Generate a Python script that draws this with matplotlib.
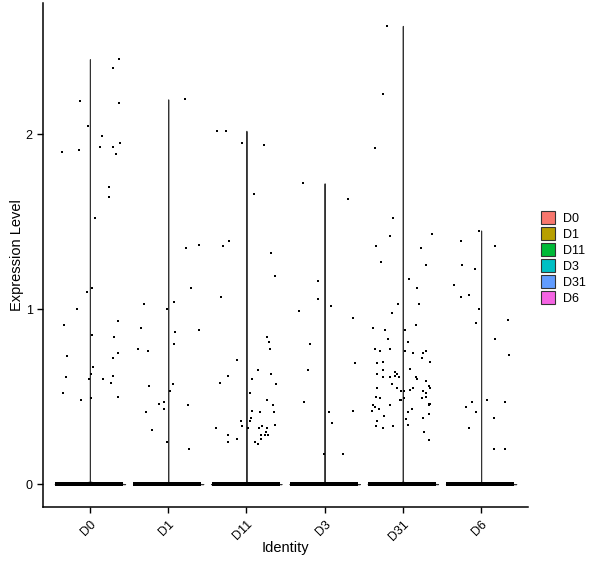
import numpy as np
import matplotlib
matplotlib.use("Agg")
import matplotlib.pyplot as plt
from matplotlib.patches import Patch

plt.rcParams['font.family'] = ['Liberation Sans', 'DejaVu Sans']

groups = ["D0", "D1", "D11", "D3", "D31", "D6"]
colors = ["#F8766D", "#B79F00", "#00BA38", "#00BFC4", "#619CFF", "#F564E3"]
zero_counts = [40000, 40000, 40000, 40000, 40000, 40000]

# non-zero expression values and their jitter offsets
d0_vals = [2.43, 2.38, 2.19, 2.18, 2.05, 1.99, 1.93, 1.93, 1.95, 1.89, 1.91, 1.90, 1.70, 1.64, 1.52,
           1.12, 1.10, 1.00, 0.91, 0.93, 0.85, 0.84, 0.73, 0.75, 0.72, 0.67, 0.63, 0.61, 0.60, 0.60,
           0.62, 0.58, 0.52, 0.50, 0.48, 0.49]
d0_jit = [0.37, 0.29, -0.13, 0.37, -0.02, 0.15, 0.13, 0.30, 0.39, 0.33, -0.14, -0.36, 0.24, 0.24, 0.07,
          0.03, -0.04, -0.17, -0.33, 0.36, 0.02, 0.31, -0.29, 0.36, 0.30, 0.04, 0.01, -0.31, -0.01, 0.17,
          0.29, 0.27, -0.35, 0.36, -0.11, 0.01]

d1_vals = [2.20, 1.35, 1.37, 1.03, 0.89, 1.00, 1.04, 1.12, 0.87, 0.88, 0.80, 0.77, 0.76, 0.56, 0.57,
           0.53, 0.46, 0.47, 0.43, 0.45, 0.41, 0.31, 0.24, 0.20]
d1_jit = [0.21, 0.23, 0.39, -0.31, -0.35, -0.01, 0.07, 0.29, 0.09, 0.39, 0.08, -0.39, -0.26, -0.24, 0.06,
          0.02, -0.12, -0.05, -0.05, 0.25, -0.28, -0.21, -0.02, 0.27]

d11_vals = [2.02, 2.02, 1.95, 1.94, 1.66, 1.36, 1.39, 1.32, 1.19, 1.07, 0.71, 0.84, 0.81, 0.77, 0.65,
            0.62, 0.58, 0.60, 0.63, 0.57, 0.52, 0.48, 0.45, 0.42, 0.41, 0.41, 0.38, 0.36, 0.36, 0.33,
            0.33, 0.34, 0.32, 0.32, 0.32, 0.32, 0.30, 0.28, 0.26, 0.28, 0.26, 0.28, 0.28, 0.24, 0.24, 0.23]
d11_jit = [-0.37, -0.26, -0.06, 0.23, 0.10, -0.30, -0.22, 0.32, 0.37, -0.32, -0.12, 0.26, 0.29, 0.30, 0.15,
           -0.23, -0.34, 0.07, 0.32, 0.38, 0.05, 0.26, 0.34, 0.07, 0.35, 0.18, 0.06, -0.07, 0.05, -0.06,
           0.20, 0.37, -0.39, 0.02, 0.16, 0.26, 0.25, -0.23, -0.12, 0.19, 0.19, 0.24, 0.28, -0.23, 0.11, 0.15]

d3_vals = [1.72, 1.63, 1.16, 1.06, 1.02, 0.99, 0.95, 0.80, 0.69, 0.65, 0.47, 0.41, 0.42, 0.35, 0.17, 0.17]
d3_jit = [-0.27, 0.30, -0.08, -0.08, 0.08, -0.33, 0.36, -0.19, 0.39, -0.21, -0.26, 0.06, 0.36, 0.09, -0.01, 0.24]

d31_vals = [2.62, 2.23, 1.92, 1.52, 1.42, 1.36, 1.43, 1.35, 1.27, 1.25, 1.17, 1.12, 1.03, 1.03, 0.98,
            0.89, 0.88, 0.88, 0.91, 0.83, 0.81, 0.77, 0.76, 0.77, 0.76, 0.75, 0.75, 0.76, 0.72, 0.70,
            0.69, 0.70, 0.66, 0.65, 0.63, 0.64, 0.63, 0.62, 0.61, 0.61, 0.61, 0.61, 0.60, 0.59, 0.57,
            0.55, 0.55, 0.54, 0.55, 0.56, 0.55, 0.53, 0.52, 0.53, 0.53, 0.50, 0.49, 0.49, 0.48, 0.48,
            0.49, 0.50, 0.46, 0.46, 0.45, 0.45, 0.45, 0.44, 0.43, 0.42, 0.43, 0.41, 0.39, 0.40, 0.38,
            0.36, 0.37, 0.33, 0.34, 0.33, 0.32, 0.30, 0.25]
d31_jit = [-0.20, -0.25, -0.35, -0.13, -0.17, -0.34, 0.37, 0.23, -0.28, 0.30, 0.08, 0.18, -0.06, 0.21, -0.14,
           -0.38, -0.23, 0.03, 0.17, -0.19, 0.07, -0.35, -0.29, -0.16, 0.03, 0.13, 0.26, 0.29, 0.25, 0.35,
           -0.33, -0.26, 0.09, -0.25, -0.33, -0.10, -0.07, -0.10, -0.05, -0.25, -0.17, 0.17, 0.18, 0.29, -0.14,
           -0.08, -0.33, 0.09, 0.13, 0.33, 0.35, 0.26, 0.30, -0.02, 0.01, -0.34, -0.29, 0.01, -0.03, -0.02,
           0.24, 0.30, 0.34, 0.35, 0.33, -0.38, -0.17, -0.35, -0.31, -0.39, 0.12, 0.06, -0.24, 0.34, 0.26,
           -0.33, 0.04, -0.34, 0.06, -0.12, -0.26, 0.27, 0.34]

d6_vals = [1.45, 1.39, 1.36, 1.25, 1.23, 1.14, 1.07, 1.08, 1.00, 0.94, 0.92, 0.83, 0.74, 0.48, 0.47,
           0.47, 0.44, 0.41, 0.38, 0.32, 0.20, 0.20]
d6_jit = [-0.03, -0.26, 0.18, -0.25, -0.08, -0.34, -0.26, -0.15, -0.03, 0.34, -0.06, 0.18, 0.36, 0.07, -0.11,
          0.31, -0.19, -0.07, 0.16, -0.16, 0.16, 0.30]

all_vals = [d0_vals, d1_vals, d11_vals, d3_vals, d31_vals, d6_vals]
all_jit = [d0_jit, d1_jit, d11_jit, d3_jit, d31_jit, d6_jit]


def violin(ax, pos, vals, n_zero, color):
    """Trimmed gaussian KDE violin, like ggplot's geom_violin."""
    vals = np.asarray(vals)
    n = n_zero + len(vals)
    full = np.concatenate([np.zeros(n_zero), vals])
    sd = full.std(ddof=1)
    bw = 0.9 * sd * n ** -0.2
    y = np.linspace(0, vals.max(), 512)
    phi = lambda z: np.exp(-0.5 * z ** 2) / np.sqrt(2 * np.pi)
    dens = n_zero * phi(y / bw)
    for v in vals:
        dens += phi((y - v) / bw)
    dens /= n * bw
    hw = 0.45 * dens / dens.max()
    ax.fill_betweenx(y, pos - hw, pos + hw, facecolor=color, edgecolor="#333333", linewidth=0.8, zorder=1)


fig = plt.figure(figsize=(6, 5.68), dpi=100)
ax = fig.add_axes([43 / 600, 1 - 507 / 568, (528 - 43) / 600, (507 - 3) / 568])

for i, g in enumerate(groups):
    pos = i + 1
    violin(ax, pos, all_vals[i], zero_counts[i], colors[i])
    # zero-valued cells, jittered across the group
    zx = pos + np.linspace(-0.42, 0.4, 600)
    ax.plot(zx, np.zeros(len(zx)), "s", color="black", ms=2.6, mew=0, zorder=2)
    ax.plot(pos + np.array(all_jit[i]), all_vals[i], "s", color="black", ms=2.0, mew=0, zorder=3)

ymax = max(max(v) for v in all_vals)
ax.set_xlim(0.4, len(groups) + 0.6)
ax.set_ylim(-0.05 * ymax, 1.05 * ymax)
ax.set_xticks(range(1, len(groups) + 1))
ax.set_xticklabels(groups, rotation=45, ha="right", va="top", rotation_mode="anchor")
ax.set_yticks([0, 1, 2])
ax.tick_params(axis="both", direction="out", length=4, width=1, colors="black", labelsize=9)
ax.tick_params(axis="x", pad=4)
for s in ["top", "right"]:
    ax.spines[s].set_visible(False)
for s in ["left", "bottom"]:
    ax.spines[s].set_linewidth(1.1)
ax.set_xlabel("Identity", fontsize=10.5)
ax.set_ylabel("Expression Level", fontsize=10.5)
ax.xaxis.set_label_coords(0.5, (507 - 548) / 504)
ax.xaxis.label.set_va("center")
ax.yaxis.set_label_coords((17 - 43) / 485, 0.5)
ax.yaxis.label.set_va("center")

handles = [Patch(facecolor=c, edgecolor="#333333", linewidth=0.8, label=g) for g, c in zip(groups, colors)]
fig.legend(handles=handles, loc="center left", bbox_to_anchor=(541 / 600, 1 - 258 / 568), frameon=False,
           fontsize=9, handlelength=1.15, handleheight=1.15, labelspacing=0.2, handletextpad=0.6,
           borderpad=0, borderaxespad=0)

fig.savefig("out.png", dpi=100)
